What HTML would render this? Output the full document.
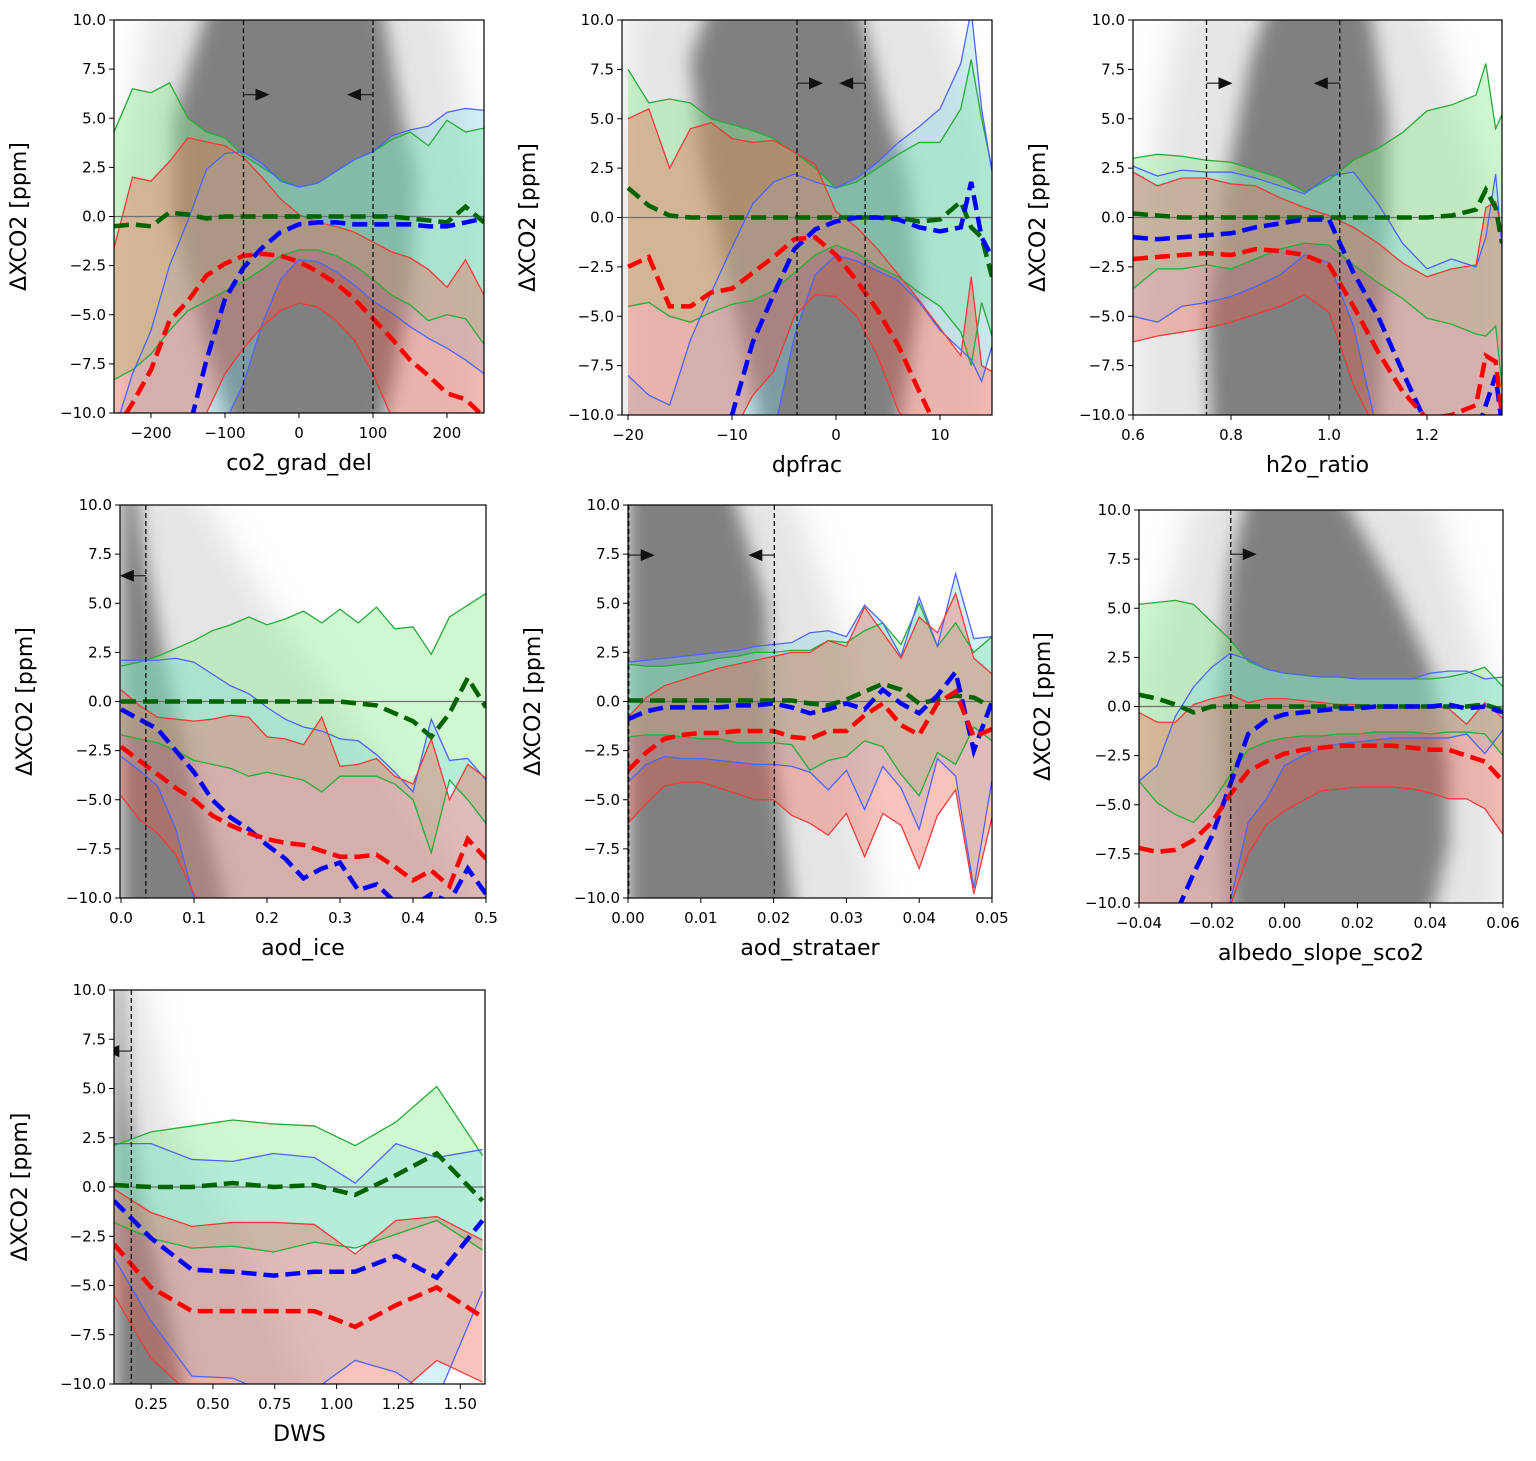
<!DOCTYPE html>
<html><head><meta charset="utf-8"><style>
html,body{margin:0;padding:0;background:#fff;}
svg text{font-family:"DejaVu Sans","Liberation Sans",sans-serif;fill:#000;}
</style></head>
<body>
<svg id="fig" xmlns="http://www.w3.org/2000/svg" width="1536" height="1456" viewBox="0 0 1536 1456">
<defs>
<filter id="blurCore" filterUnits="userSpaceOnUse" x="-200" y="-200" width="1936" height="1856"><feGaussianBlur stdDeviation="9"/></filter>
<filter id="blurHalo" filterUnits="userSpaceOnUse" x="-200" y="-200" width="1936" height="1856"><feGaussianBlur stdDeviation="16"/></filter>
</defs>
</svg>
<script>
// ---------- Panel 1: co2_grad_del ----------
const P1_X = [-250,-225,-200,-175,-150,-125,-100,-75,-50,-25,0,25,50,75,100,125,150,175,200,225,250];
const P1_GU = [4.3,6.5,6.3,6.8,5.0,4.3,4.0,3.1,2.5,1.9,1.5,1.7,2.3,2.9,3.3,3.9,4.3,3.6,4.9,4.3,4.5];
const P1_GL = [-8.3,-7.8,-7.0,-5.8,-4.8,-4.3,-3.8,-3.3,-2.7,-2.0,-1.7,-1.7,-2.0,-2.5,-3.2,-4.0,-4.5,-5.3,-5.0,-5.2,-6.5];
const P1_BU = [-11,-8,-5.8,-2.5,-0.2,2.4,3.2,3.3,2.7,1.8,1.5,1.7,2.3,2.9,3.3,4.1,4.4,4.6,5.3,5.5,5.4];
const P1_BL = [-11,-11,-11,-11,-11,-11,-10.5,-8.5,-5.5,-3.2,-2.2,-2.3,-2.8,-3.5,-4.3,-4.9,-5.6,-6.2,-6.7,-7.3,-8.0];
const P1_RU = [-1.6,2.0,1.8,2.8,4.0,3.8,3.6,3.0,2.0,0.9,0.1,-0.3,-0.5,-0.8,-1.3,-1.8,-2.1,-2.7,-3.6,-2.2,-4.0];
const P1_RL = [-11,-11,-11,-11,-11,-10,-8,-6.7,-5.6,-4.8,-4.4,-4.6,-5.3,-6.3,-8.0,-10.2,-11,-11,-11,-11,-11];
const P1_GM = [-0.5,-0.4,-0.5,0.2,0.1,-0.1,0,0,0,0,0,0,0,0,0,0,-0.1,-0.2,-0.3,0.5,-0.3];
const P1_BM = [-11,-11,-11,-11,-11,-7.3,-4.2,-2.6,-1.6,-0.8,-0.4,-0.3,-0.3,-0.4,-0.4,-0.4,-0.4,-0.5,-0.5,-0.3,-0.1];
const P1_RM = [-11,-9.5,-7.8,-5.3,-4.3,-3.0,-2.4,-2.0,-1.9,-2.0,-2.3,-2.8,-3.4,-4.2,-5.2,-6.2,-7.3,-8.1,-9.0,-9.3,-10.2];
const P1_CLOUD_X = [-120,110,140,160,150,130,110,-90,-130,-170,-170];
const P1_CLOUD_Y = [11,11,5,2,-4,-8,-11,-11,-6,0,5];
const P1_HALO_X = [-200,200,250,250,-250,-250];
const P1_HALO_Y = [11,11,0,-11,-11,0];

// ---------- Panel 2: dpfrac ----------
const P2_X = [-20,-18,-16,-14,-12,-10,-8,-6,-4,-2,0,2,4,6,8,10,12,13,14,15];
const P2_GU = [7.5,5.8,6.0,5.8,5.0,4.7,4.4,4.0,3.3,2.5,1.5,1.8,2.5,3.2,3.8,3.8,5.5,8.0,5.0,2.5];
const P2_GL = [-4.5,-4.3,-5.0,-5.3,-4.8,-4.4,-4.2,-3.7,-2.8,-1.9,-1.4,-1.8,-2.5,-3.0,-3.8,-4.5,-5.8,-7.5,-4.3,-6.0];
const P2_BU = [-8,-9,-9.5,-6.2,-3.8,-1.5,0.7,1.8,2.2,1.8,1.5,2.0,2.8,3.8,4.6,5.5,7.8,10.5,5.5,2.3];
const P2_BL = [-11,-11,-11,-11,-11,-11,-11,-11,-6.0,-2.9,-1.9,-2.2,-2.7,-3.2,-4.3,-5.7,-6.7,-7.2,-8.3,-6.5];
const P2_RU = [5.0,5.5,2.5,4.5,4.8,4.0,3.8,3.9,3.3,2.7,0.3,-0.5,-1.6,-2.9,-4.2,-5.6,-7.0,-3.0,-7.5,-7.8];
const P2_RL = [-11,-11,-11,-11,-11,-11,-9,-7.8,-5.0,-3.9,-4.0,-5.0,-7.0,-9.8,-11,-11,-11,-11,-11,-11];
const P2_GM = [1.5,0.6,0.1,0,0,0,0,0,0,0,0,0,0,0,-0.2,-0.1,0.8,-0.5,-1.0,-3.0];
const P2_BM = [-11,-11,-11,-11,-11,-10,-6.3,-3.9,-1.6,-0.6,-0.2,0,0,-0.1,-0.5,-0.7,-0.5,1.8,-1.0,-2.0];
const P2_RM = [-2.5,-2.0,-4.5,-4.5,-3.8,-3.6,-2.8,-2.0,-1.1,-1.0,-1.9,-3.2,-4.7,-6.5,-8.8,-11,-11,-11,-11,-11];
const P2_CLOUD_X = [-12,2,5,7,8,6,-7,-10,-13,-14];
const P2_CLOUD_Y = [11,11,5,2,-4,-11,-11,-4,3,8];
const P2_HALO_X = [-20,10,15,15,-21,-21];
const P2_HALO_Y = [11,11,3,-11,-11,0];

// ---------- Panel 3: h2o_ratio ----------
const P3_X = [0.6,0.65,0.7,0.75,0.8,0.85,0.9,0.95,1.0,1.05,1.1,1.15,1.2,1.25,1.3,1.32,1.34,1.353];
const P3_GU = [3.0,3.2,3.1,2.9,2.8,2.4,2.0,1.3,1.9,2.9,3.5,4.3,5.4,5.7,6.2,7.8,4.5,5.2];
const P3_GL = [-3.6,-2.6,-2.6,-2.4,-2.6,-2.1,-1.6,-1.3,-1.4,-2.4,-3.3,-4.1,-5.1,-5.4,-5.9,-6.0,-5.5,-8.5];
const P3_BU = [2.6,2.1,2.4,2.3,2.3,2.0,1.6,1.2,2.1,2.3,0.7,-1.3,-2.6,-2.1,-2.5,-1.0,2.2,-1.5];
const P3_BL = [-5.0,-5.3,-4.5,-4.3,-4.0,-3.5,-2.9,-1.9,-2.3,-5.5,-11,-11,-11,-11,-11,-11,-11,-11];
const P3_RU = [2.3,1.6,2.0,2.0,1.7,1.6,1.0,0.5,0.1,-0.5,-1.3,-2.3,-3.0,-2.6,-2.4,0.5,0.8,-0.7];
const P3_RL = [-6.3,-6.0,-5.8,-5.6,-5.3,-4.9,-4.5,-3.9,-4.8,-8.5,-11,-11,-11,-11,-11,-11,-11,-11];
const P3_GM = [0.2,0.1,0,0,0,0,0,0,0,0,0,0,0,0.1,0.4,1.4,0.5,-1.3];
const P3_BM = [-1.0,-1.1,-1.0,-0.9,-0.8,-0.5,-0.3,-0.1,-0.1,-2.8,-5.0,-7.8,-10.5,-11,-11,-9.5,-8.0,-10.5];
const P3_RM = [-2.1,-2.0,-1.9,-1.8,-1.9,-1.6,-1.7,-1.9,-2.4,-4.5,-6.8,-8.8,-10.2,-10,-9.5,-7.0,-7.3,-10];
const P3_CLOUD_X = [0.88,1.08,1.12,1.12,1.1,0.76,0.75,0.8,0.84];
const P3_CLOUD_Y = [11,11,5,0,-11,-11,-5,3,8];
const P3_HALO_X = [0.7,1.2,1.35,1.35,0.6,0.6,0.65];
const P3_HALO_Y = [11,11,0,-11,-11,-6,5];

// ---------- Panel 4: aod_ice ----------
const P4_X = [0,0.025,0.05,0.075,0.1,0.125,0.15,0.175,0.2,0.225,0.25,0.275,0.3,0.325,0.35,0.375,0.4,0.425,0.45,0.475,0.5];
const P4_GU = [1.8,2.0,2.3,2.7,3.1,3.6,3.9,4.3,3.9,4.2,4.6,4.0,4.7,4.0,4.8,3.7,3.8,2.4,4.3,4.9,5.5];
const P4_GL = [-1.7,-1.9,-2.1,-2.5,-3.0,-3.2,-3.4,-3.8,-3.6,-3.8,-4.0,-4.6,-3.8,-3.8,-3.8,-4.2,-5.0,-7.7,-4.0,-5.0,-6.2];
const P4_BU = [2.1,2.1,2.1,2.2,2.0,1.4,0.8,0.4,-0.3,-0.9,-1.3,-1.5,-1.9,-2.0,-2.7,-3.6,-4.6,-0.9,-3.0,-2.9,-4.0];
const P4_BL = [-2.8,-3.5,-4.3,-6.5,-10,-11,-11,-11,-11,-11,-11,-11,-11,-11,-11,-11,-11,-11,-11,-11,-11];
const P4_RU = [0.6,-0.2,-0.8,-0.9,-1.0,-0.9,-0.7,-0.8,-1.8,-1.9,-2.2,-0.8,-3.3,-3.2,-2.9,-3.8,-4.2,-1.9,-5.0,-3.2,-3.9];
const P4_RL = [-4.8,-6.0,-6.7,-7.8,-9.8,-11,-11,-11,-11,-11,-11,-11,-11,-11,-11,-11,-11,-11,-11,-11,-11];
const P4_GM = [0,0,0,0,0,0,0,0,0,0,0,0,0,-0.1,-0.2,-0.6,-1.0,-1.8,-0.6,1.2,-0.3];
const P4_BM = [-0.4,-0.9,-1.4,-2.5,-3.6,-5.0,-5.9,-6.5,-7.3,-8.0,-9.0,-8.5,-8.2,-9.6,-9.3,-10.2,-10.4,-9.8,-10.2,-8.5,-9.8];
const P4_RM = [-2.3,-3.0,-3.7,-4.4,-5.0,-5.8,-6.3,-6.7,-7.0,-7.2,-7.3,-7.6,-7.9,-7.9,-7.8,-8.4,-9.1,-8.6,-9.4,-7.0,-8.0];
const P4_CLOUD_X = [0,0.02,0.035,0.06,0.1,0.15,0];
const P4_CLOUD_Y = [11,11,7,2,-4,-11,-11];
const P4_HALO_X = [0,0.1,0.2,0.3,0.45,0.5,0];
const P4_HALO_Y = [11,11,5,0,-8,-11,-11];

// ---------- Panel 5: aod_strataer ----------
const P5_X = [0,0.0025,0.005,0.0075,0.01,0.0125,0.015,0.0175,0.02,0.0225,0.025,0.0275,0.03,0.0325,0.035,0.0375,0.04,0.0425,0.045,0.0475,0.05];
const P5_GU = [1.9,1.8,1.8,1.9,2.0,2.2,2.3,2.5,2.5,2.6,2.6,3.1,3.0,3.6,4.0,2.9,5.0,2.8,4.0,2.5,3.3];
const P5_GL = [-1.8,-1.7,-1.7,-1.8,-1.9,-1.9,-2.1,-2.1,-2.1,-2.2,-3.5,-3.0,-2.8,-2.0,-2.3,-3.7,-4.8,-2.6,-3.2,-1.3,-2.0];
const P5_BU = [2.0,2.1,2.2,2.3,2.4,2.5,2.6,2.8,2.9,3.0,3.5,3.6,3.3,4.9,4.0,2.3,5.3,2.8,6.5,3.2,3.3];
const P5_BL = [-4.1,-3.2,-2.8,-2.9,-2.9,-3.0,-3.1,-3.2,-3.2,-3.3,-3.6,-4.5,-3.5,-5.5,-3.3,-4.4,-6.5,-2.9,-3.8,-9.5,-4.0];
const P5_RU = [-0.8,0.2,0.8,1.1,1.4,1.7,1.9,2.1,2.3,2.5,2.5,3.1,2.8,4.8,3.5,2.2,4.3,3.5,5.5,2.2,1.4];
const P5_RL = [-6.2,-5.2,-4.3,-4.1,-4.1,-4.4,-4.7,-5.0,-5.0,-5.8,-6.2,-6.8,-5.7,-7.9,-5.7,-6.3,-8.5,-5.8,-4.5,-9.8,-5.9];
const P5_GM = [0.05,0.05,0.05,0.05,0.05,0.05,0.05,0.05,0.05,0.05,-0.1,-0.2,0.1,0.5,0.9,0.6,-0.1,0.1,0.3,0.2,-0.3];
const P5_BM = [-0.9,-0.5,-0.3,-0.3,-0.3,-0.3,-0.2,-0.2,-0.1,-0.3,-0.6,-0.4,-0.1,-0.4,0.6,-0.1,-0.6,0.3,1.5,-2.5,0];
const P5_RM = [-3.5,-2.6,-1.9,-1.7,-1.6,-1.6,-1.5,-1.5,-1.5,-1.8,-1.9,-1.5,-1.5,-0.7,-0.1,-1.2,-1.7,-0.1,0.5,-1.8,-1.4];
const P5_CLOUD_X = [0,0.014,0.019,0.02,0.023,0];
const P5_CLOUD_Y = [11,11,5,-3,-11,-11];
const P5_HALO_X = [0,0.022,0.03,0.033,0.035,0];
const P5_HALO_Y = [11,11,3,-8,-11,-11];

// ---------- Panel 6: albedo_slope_sco2 ----------
const P6_X = [-0.04,-0.035,-0.03,-0.025,-0.02,-0.015,-0.01,-0.005,0,0.005,0.01,0.015,0.02,0.025,0.03,0.035,0.04,0.045,0.05,0.055,0.06];
const P6_GU = [5.2,5.3,5.4,5.2,4.3,3.4,2.3,1.9,1.7,1.6,1.5,1.5,1.4,1.4,1.4,1.4,1.4,1.5,1.7,2.0,1.0];
const P6_GL = [-3.8,-4.9,-5.5,-5.9,-4.9,-3.5,-2.2,-1.8,-1.6,-1.5,-1.5,-1.4,-1.4,-1.3,-1.3,-1.3,-1.4,-1.3,-1.3,-1.4,-2.5];
const P6_BU = [-3.8,-3.0,-0.5,1.0,2.0,2.7,2.4,1.9,1.7,1.6,1.5,1.5,1.4,1.4,1.4,1.4,1.7,1.8,1.8,1.4,1.5];
const P6_BL = [-11,-11,-11,-11,-11,-10,-5.9,-4.7,-3.0,-2.5,-2.1,-1.9,-1.8,-1.7,-1.6,-1.6,-1.6,-1.6,-1.4,-2.4,-1.2];
const P6_RU = [-0.3,-0.8,-0.8,0.1,0.4,0.6,0.2,0.4,0.4,0.3,0.2,0.1,0.1,0,0,0,0,-0.1,-0.9,0.2,-0.6];
const P6_RL = [-11,-11,-11,-11,-11,-10.2,-7.5,-6.0,-5.3,-4.8,-4.3,-4.2,-4.1,-4.1,-4.1,-4.2,-4.4,-4.7,-4.7,-5.2,-6.5];
const P6_GM = [0.6,0.4,0.1,-0.3,0,0,0,0,0,0,0,0,0,0,0,0,0,0,0,0.1,-0.2];
const P6_BM = [-11,-11,-10.6,-8.5,-6.6,-4.0,-1.4,-0.7,-0.4,-0.3,-0.2,-0.1,-0.1,0,0,0,0,0.1,-0.1,0,-0.3];
const P6_RM = [-7.2,-7.4,-7.3,-6.8,-5.9,-4.5,-3.3,-2.8,-2.4,-2.2,-2.1,-2.0,-2.0,-2.0,-2.0,-2.1,-2.2,-2.2,-2.5,-2.8,-3.8];
const P6_CLOUD_X = [-0.01,0.015,0.03,0.04,0.045,0.045,0.04,-0.015,-0.018,-0.015];
const P6_CLOUD_Y = [11,11,6,2,-3,-7,-11,-11,0,7];
const P6_HALO_X = [-0.025,0.04,0.055,0.06,0.06,-0.04,-0.04,-0.03];
const P6_HALO_Y = [11,11,2,-5,-11,-11,2,7];

// ---------- Panel 7: DWS ----------
const P7_X = [0.1,0.25,0.415,0.58,0.745,0.91,1.075,1.24,1.405,1.59];
const P7_GU = [2.1,2.8,3.1,3.4,3.2,3.1,2.1,3.3,5.1,1.6];
const P7_GL = [-1.8,-2.6,-3.1,-3.0,-3.3,-2.8,-3.1,-2.4,-1.7,-3.2];
const P7_BU = [2.2,2.2,1.4,1.3,1.7,1.5,0.2,2.2,1.5,1.9];
const P7_BL = [-3.6,-6.8,-9.6,-9.7,-10.6,-10.3,-8.8,-9.4,-10.8,-5.3];
const P7_RU = [-0.1,-1.3,-2.0,-1.8,-1.8,-1.9,-3.4,-1.7,-1.5,-2.7];
const P7_RL = [-5.5,-8.7,-10.6,-11,-11,-11,-11,-10.6,-8.8,-9.9];
const P7_GM = [0.1,0,0,0.2,0,0.1,-0.4,0.6,1.7,-0.7];
const P7_BM = [-0.7,-2.6,-4.2,-4.3,-4.5,-4.3,-4.3,-3.5,-4.6,-1.7];
const P7_RM = [-2.9,-5.1,-6.3,-6.3,-6.3,-6.3,-7.1,-6.0,-5.1,-6.6];
const P7_CLOUD_X = [0.1,0.13,0.15,0.2,0.3,0.4,0.1];
const P7_CLOUD_Y = [11,11,5,0,-5,-11,-11];
const P7_HALO_X = [0.1,0.2,0.35,0.5,0.7,0.9,0.1];
const P7_HALO_Y = [11,11,3,0,-5,-11,-11];

const Y_TICKS = [-10,-7.5,-5,-2.5,0,2.5,5,7.5,10];

const panels = [
 {key:'co2-grad-del',label:'co2_grad_del',L:114,R:484,T:20,B:413,xmin:-250,xmax:250,
  x:P1_X,gu:P1_GU,gl:P1_GL,bu:P1_BU,bl:P1_BL,ru:P1_RU,rl:P1_RL,gm:P1_GM,bm:P1_BM,rm:P1_RM,
  cx:P1_CLOUD_X,cy:P1_CLOUD_Y,hx:P1_HALO_X,hy:P1_HALO_Y,
  xticks:[-200,-100,0,100,200],dec:0,vlines:[[-75,1],[100,-1]],ay:6.2,ylx:26,xly:470},
 {key:'dpfrac',label:'dpfrac',L:622,R:992,T:20,B:415,xmin:-20.58,xmax:15.0,
  x:P2_X,gu:P2_GU,gl:P2_GL,bu:P2_BU,bl:P2_BL,ru:P2_RU,rl:P2_RL,gm:P2_GM,bm:P2_BM,rm:P2_RM,
  cx:P2_CLOUD_X,cy:P2_CLOUD_Y,hx:P2_HALO_X,hy:P2_HALO_Y,
  xticks:[-20,-10,0,10],dec:0,vlines:[[-3.75,1],[2.8,-1]],ay:6.8,ylx:535,xly:472},
 {key:'h2o-ratio',label:'h2o_ratio',L:1133,R:1502,T:20,B:415,xmin:0.6,xmax:1.353,
  x:P3_X,gu:P3_GU,gl:P3_GL,bu:P3_BU,bl:P3_BL,ru:P3_RU,rl:P3_RL,gm:P3_GM,bm:P3_BM,rm:P3_RM,
  cx:P3_CLOUD_X,cy:P3_CLOUD_Y,hx:P3_HALO_X,hy:P3_HALO_Y,
  xticks:[0.6,0.8,1.0,1.2],dec:1,vlines:[[0.75,1],[1.022,-1]],ay:6.8,ylx:1045,xly:472},
 {key:'aod-ice',label:'aod_ice',L:120,R:486,T:505,B:898,xmin:-0.0014,xmax:0.5,
  x:P4_X,gu:P4_GU,gl:P4_GL,bu:P4_BU,bl:P4_BL,ru:P4_RU,rl:P4_RL,gm:P4_GM,bm:P4_BM,rm:P4_RM,
  cx:P4_CLOUD_X,cy:P4_CLOUD_Y,hx:P4_HALO_X,hy:P4_HALO_Y,
  xticks:[0,0.1,0.2,0.3,0.4,0.5],dec:1,vlines:[[0.034,-1]],ay:6.4,ylx:32,xly:955},
 {key:'aod-strataer',label:'aod_strataer',L:628,R:992,T:505,B:898,xmin:0,xmax:0.05,
  x:P5_X,gu:P5_GU,gl:P5_GL,bu:P5_BU,bl:P5_BL,ru:P5_RU,rl:P5_RL,gm:P5_GM,bm:P5_BM,rm:P5_RM,
  cx:P5_CLOUD_X,cy:P5_CLOUD_Y,hx:P5_HALO_X,hy:P5_HALO_Y,
  xticks:[0,0.01,0.02,0.03,0.04,0.05],dec:2,vlines:[[0.0001,1],[0.0201,-1]],ay:7.45,ylx:540,xly:955},
 {key:'albedo-slope-sco2',label:'albedo_slope_sco2',L:1139,R:1503,T:510,B:903,xmin:-0.04,xmax:0.06,
  x:P6_X,gu:P6_GU,gl:P6_GL,bu:P6_BU,bl:P6_BL,ru:P6_RU,rl:P6_RL,gm:P6_GM,bm:P6_BM,rm:P6_RM,
  cx:P6_CLOUD_X,cy:P6_CLOUD_Y,hx:P6_HALO_X,hy:P6_HALO_Y,
  xticks:[-0.04,-0.02,0,0.02,0.04,0.06],dec:2,vlines:[[-0.0148,1]],ay:7.75,ylx:1050,xly:960},
 {key:'dws',label:'DWS',L:114,R:485,T:990,B:1384,xmin:0.1,xmax:1.6,
  x:P7_X,gu:P7_GU,gl:P7_GL,bu:P7_BU,bl:P7_BL,ru:P7_RU,rl:P7_RL,gm:P7_GM,bm:P7_BM,rm:P7_RM,
  cx:P7_CLOUD_X,cy:P7_CLOUD_Y,hx:P7_HALO_X,hy:P7_HALO_Y,
  xticks:[0.25,0.5,0.75,1.0,1.25,1.5],dec:2,vlines:[[0.17,-1]],ay:6.9,ylx:27,xly:1441}
];

const NS='http://www.w3.org/2000/svg';
const svg=document.getElementById('fig');
const defs=svg.querySelector('defs');
function mk(tag,attrs,parent){const e=document.createElementNS(NS,tag);for(const k in attrs)e.setAttribute(k,attrs[k]);parent.appendChild(e);return e;}
function fmt(v,dec){const s=Math.abs(v).toFixed(dec);return (v<-1e-9?'\u2212':'')+s;}

panels.forEach((p,pi)=>{
  const sx=v=>p.L+(v-p.xmin)/(p.xmax-p.xmin)*(p.R-p.L);
  const sy=v=>p.B-(Math.max(-12,Math.min(12,v))+10)/20*(p.B-p.T);
  const g=mk('g',{},svg);
  
  
  const cp=mk('clipPath',{id:'clip'+pi},defs);
  mk('rect',{x:p.L,y:p.T,width:p.R-p.L,height:p.B-p.T},cp);
  const plot=mk('g',{'clip-path':'url(#clip'+pi+')'},g);
  
  
  const halo=mk('polygon',{points:p.hx.map((v,i)=>sx(v)+','+sy(p.hy[i])).join(' '),fill:'#bdbdbd','fill-opacity':'0.4',filter:'url(#blurHalo)'},plot);
  
  
  const core=mk('polygon',{points:p.cx.map((v,i)=>sx(v)+','+sy(p.cy[i])).join(' '),fill:'#808080',filter:'url(#blurCore)'},plot);
  
  
  const bands=[['green',p.gu,p.gl,'rgb(144,238,144)',0.42,'rgb(40,170,60)'],
               ['blue',p.bu,p.bl,'rgb(128,215,235)',0.32,'rgb(80,100,255)'],
               ['red',p.ru,p.rl,'rgb(240,90,70)',0.36,'rgb(240,60,60)']];
  bands.forEach(b=>{
    const up=p.x.map((v,i)=>sx(v)+','+sy(b[1][i]));
    const lo=p.x.map((v,i)=>sx(v)+','+sy(b[2][i])).reverse();
    const poly=mk('polygon',{points:up.concat(lo).join(' '),fill:b[3],'fill-opacity':b[4]},plot);
    
    
  });
  bands.forEach(b=>{
    [['upper',b[1]],['lower',b[2]]].forEach(s=>{
      const l=mk('polyline',{points:p.x.map((v,i)=>sx(v)+','+sy(s[1][i])).join(' '),fill:'none',stroke:b[5],'stroke-width':1.3},plot);
      
      
    });
  });
  const z=mk('line',{x1:p.L,x2:p.R,y1:sy(0),y2:sy(0),stroke:'#707070','stroke-width':1.2},plot);
  
  
  [['green',p.gm,'#006400'],['blue',p.bm,'#0000ff'],['red',p.rm,'#ff0000']].forEach(m=>{
    const l=mk('polyline',{points:p.x.map((v,i)=>sx(v)+','+sy(m[1][i])).join(' '),fill:'none',stroke:m[2],'stroke-width':4.5,'stroke-dasharray':'15 7'},plot);
    
    
  });
  p.vlines.forEach(vl=>{
    const X=sx(vl[0]);
    const l=mk('line',{x1:X,x2:X,y1:p.T,y2:p.B,stroke:'#111','stroke-width':1.3,'stroke-dasharray':'5 3'},plot);
    
    
    const Y=sy(p.ay),d=vl[1];
    const sh=mk('line',{x1:X,x2:X+d*14,y1:Y,y2:Y,stroke:'#222','stroke-width':1.2},plot);
    
    
    const hd=mk('polygon',{points:(X+d*12)+','+(Y-6)+' '+(X+d*26)+','+Y+' '+(X+d*12)+','+(Y+6),fill:'#111'},plot);
    
    
  });
  const fr=mk('rect',{x:p.L,y:p.T,width:p.R-p.L,height:p.B-p.T,fill:'none',stroke:'#000','stroke-width':1.2},g);
  
  
  Y_TICKS.forEach(t=>{
    const Y=sy(t);
    const tk=mk('line',{x1:p.L-5,x2:p.L,y1:Y,y2:Y,stroke:'#000','stroke-width':1},g);
    
    
    const tx=mk('text',{x:p.L-8,y:Y+5,'text-anchor':'end','font-size':15},g);
    tx.textContent=fmt(t,1);
    
    
  });
  p.xticks.forEach(t=>{
    const X=sx(t);
    const tk=mk('line',{x1:X,x2:X,y1:p.B,y2:p.B+5,stroke:'#000','stroke-width':1},g);
    
    
    const tx=mk('text',{x:X,y:p.B+25,'text-anchor':'middle','font-size':15},g);
    tx.textContent=fmt(t,p.dec);
    
    
  });
  const xl=mk('text',{x:(p.L+p.R)/2,y:p.xly,'text-anchor':'middle','font-size':22},g);
  xl.textContent=p.label;
  
  
  const yc=(p.T+p.B)/2;
  const yl=mk('text',{x:p.ylx,y:yc,'text-anchor':'middle','font-size':22,transform:'rotate(-90 '+p.ylx+' '+yc+')'},g);
  yl.textContent='\u0394XCO2 [ppm]';
  
  
});
</script>
</body></html>
